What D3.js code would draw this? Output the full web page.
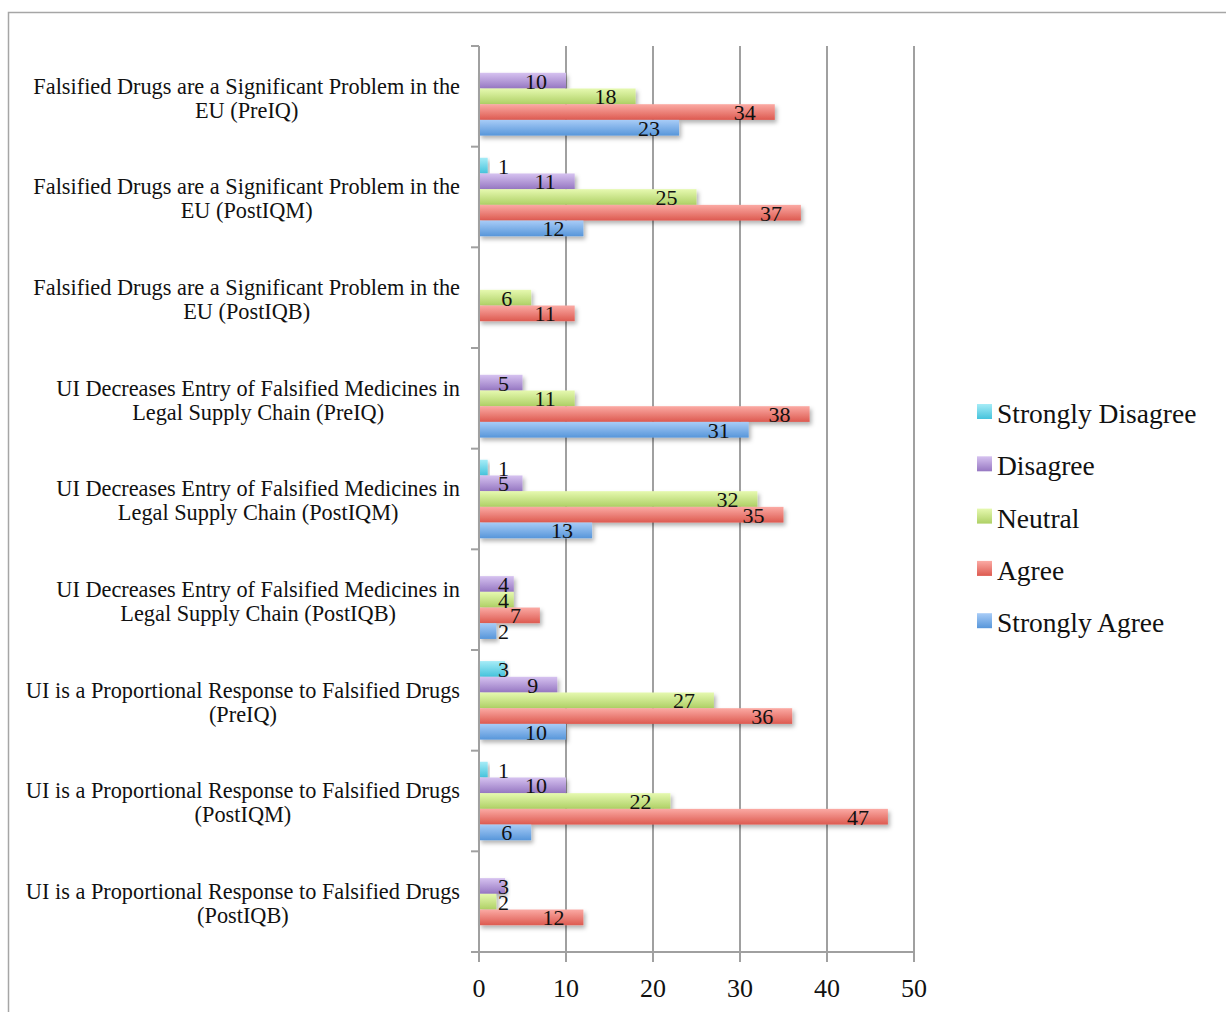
<!DOCTYPE html>
<html>
<head>
<meta charset="utf-8">
<script src="https://cdn.jsdelivr.net/npm/d3@7"></script>
<style>
  html, body { margin: 0; padding: 0; background: #fff; }
  svg { display: block; }
  text { font-family: "Liberation Serif", "DejaVu Serif", serif; fill: #111; }
</style>
</head>
<body>
<svg id="chart" width="1226" height="1012"></svg>
<script>
// Survey statements (top to bottom), each split into its two printed lines
const categories = [
  ["Falsified Drugs are a Significant Problem in the", "EU (PreIQ)"],
  ["Falsified Drugs are a Significant Problem in the", "EU (PostIQM)"],
  ["Falsified Drugs are a Significant Problem in the", "EU (PostIQB)"],
  ["UI Decreases Entry of Falsified Medicines in", "Legal Supply Chain (PreIQ)"],
  ["UI Decreases Entry of Falsified Medicines in", "Legal Supply Chain (PostIQM)"],
  ["UI Decreases Entry of Falsified Medicines in", "Legal Supply Chain (PostIQB)"],
  ["UI is a Proportional Response to Falsified Drugs", "(PreIQ)"],
  ["UI is a Proportional Response to Falsified Drugs", "(PostIQM)"],
  ["UI is a Proportional Response to Falsified Drugs", "(PostIQB)"]
];

const seriesNames = ["Strongly Disagree", "Disagree", "Neutral", "Agree", "Strongly Agree"];

// Response counts per statement, one array per answer (0 = no responses)
const stronglyDisagree = [0, 1, 0, 0, 1, 0, 3, 1, 0];
const disagree         = [10, 11, 0, 5, 5, 4, 9, 10, 3];
const neutral          = [18, 25, 6, 11, 32, 4, 27, 22, 2];
const agree            = [34, 37, 11, 38, 35, 7, 36, 47, 12];
const stronglyAgree    = [23, 12, 0, 31, 13, 2, 10, 6, 0];

const xTicks = [0, 10, 20, 30, 40, 50];

const seriesValues = [stronglyDisagree, disagree, neutral, agree, stronglyAgree];

// Gradient stops (light top, darker bottom) for each answer
const seriesColors = [
  ["#a6ecf7", "#45c3dc"],
  ["#d6c2f0", "#9677c2"],
  ["#e6f9b0", "#aed065"],
  ["#fbaaa4", "#dd5a50"],
  ["#a8ccf7", "#5796da"]
];

const svg = d3.select("#chart");
const defs = svg.append("defs");

seriesColors.forEach((c, i) => {
  const g = defs.append("linearGradient")
    .attr("id", "grad" + i).attr("x1", 0).attr("y1", 0).attr("x2", 0).attr("y2", 1);
  g.append("stop").attr("offset", "0%").attr("stop-color", c[0]);
  g.append("stop").attr("offset", "100%").attr("stop-color", c[1]);
});

const shadow = defs.append("filter").attr("id", "shadow")
  .attr("x", "-10%").attr("y", "-30%").attr("width", "130%").attr("height", "180%");
shadow.append("feDropShadow")
  .attr("dx", 2).attr("dy", 3).attr("stdDeviation", 2)
  .attr("flood-color", "#000").attr("flood-opacity", 0.3);

// Outer chart frame
svg.append("path")
  .attr("d", "M8.5,1012 V12.5 H1226")
  .attr("fill", "none").attr("stroke", "#a6a6a6").attr("stroke-width", 1.5);

const x = d3.scaleLinear().domain([0, 50]).range([479, 914]);
const y = d3.scaleBand().domain(d3.range(categories.length)).range([46, 952]).paddingInner(0).paddingOuter(0);
const yInner = d3.scaleBand().domain(d3.range(seriesNames.length))
  .range([0, y.bandwidth()]).paddingInner(0).paddingOuter(0.705);

const gridColor = "#a0a0a0";

// Vertical gridlines
svg.append("g").selectAll("line").data(xTicks.slice(1)).join("line")
  .attr("x1", d => x(d)).attr("x2", d => x(d))
  .attr("y1", 46).attr("y2", 952)
  .attr("stroke", gridColor).attr("stroke-width", 2);

// Bars
const groups = svg.append("g").selectAll("g").data(categories).join("g")
  .attr("transform", (d, i) => `translate(0,${y(i)})`);

groups.each(function(cat, ci) {
  const g = d3.select(this);
  seriesValues.forEach((vals, si) => {
    const v = vals[ci];
    if (!v) return;
    g.append("rect")
      .attr("x", x(0)).attr("y", yInner(si))
      .attr("width", x(v) - x(0)).attr("height", yInner.bandwidth())
      .attr("fill", `url(#grad${si})`)
      .attr("filter", "url(#shadow)");
  });
});

// Axis lines and ticks
const axis = svg.append("g").attr("stroke", gridColor).attr("stroke-width", 2);
axis.append("line").attr("x1", x(0)).attr("x2", x(0)).attr("y1", 46).attr("y2", 962);
axis.append("line").attr("x1", x(0) - 8).attr("x2", x(50)).attr("y1", 952).attr("y2", 952);
axis.selectAll(".yt").data(d3.range(categories.length + 1)).join("line")
  .attr("x1", x(0) - 8).attr("x2", x(0))
  .attr("y1", i => 46 + i * y.step()).attr("y2", i => 46 + i * y.step());
axis.selectAll(".xt").data(xTicks).join("line")
  .attr("x1", d => x(d)).attr("x2", d => x(d)).attr("y1", 952).attr("y2", 962);

// Tick labels
svg.append("g").selectAll("text").data(xTicks).join("text")
  .attr("x", d => x(d)).attr("y", 997)
  .attr("text-anchor", "middle").attr("font-size", 26)
  .text(d => d);

// Value labels: right-aligned just inside the bar end, kept clear of the axis
groups.each(function(cat, ci) {
  const g = d3.select(this);
  seriesValues.forEach((vals, si) => {
    const v = vals[ci];
    if (!v) return;
    const t = g.append("text")
      .attr("font-size", 22)
      .attr("text-anchor", "end")
      .attr("y", yInner(si) + yInner.bandwidth() / 2 + 8)
      .text(v);
    const w = t.node().getComputedTextLength();
    t.attr("x", Math.max(x(v) - 19, x(0) + 19 + w));
  });
});

// Category labels: block right-aligned to the axis, lines centred in the block
groups.each(function(lines) {
  const g = d3.select(this);
  const cy = y.bandwidth() / 2;
  const ts = lines.map((s, li) => g.append("text")
    .attr("font-size", 22.3)
    .attr("text-anchor", "middle")
    .attr("y", cy - 2.5 + li * 24)
    .text(s));
  const maxW = d3.max(ts, t => t.node().getComputedTextLength());
  ts.forEach(t => t.attr("x", 460 - maxW / 2));
});

// Legend
const legend = svg.append("g").selectAll("g").data(seriesNames).join("g")
  .attr("transform", (d, i) => `translate(977,${404 + i * 52.3})`);
legend.append("rect").attr("width", 15).attr("height", 15)
  .attr("fill", (d, i) => `url(#grad${i})`);
legend.append("text").attr("x", 20).attr("y", 19)
  .attr("font-size", 27.5).text(d => d);
</script>
</body>
</html>
